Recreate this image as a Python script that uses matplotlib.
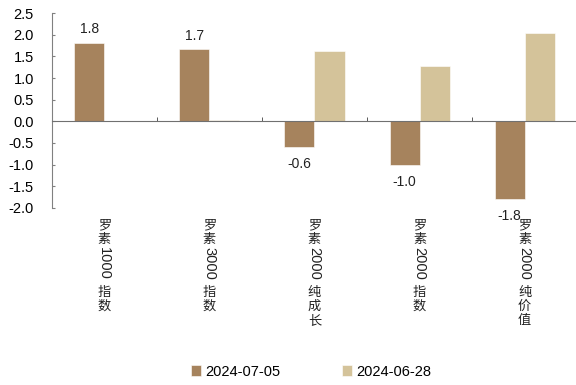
import matplotlib
matplotlib.use("Agg")
import matplotlib.pyplot as plt
import numpy as np

plt.rcParams['font.family'] = ['Liberation Sans', 'Noto Sans CJK SC', 'DejaVu Sans']

categories = ["罗素1000指数", "罗素3000指数", "罗素2000纯成长", "罗素2000指数", "罗素2000纯价值"]
series_names = ["2024-07-05", "2024-06-28"]
s_0705 = [1.8, 1.66, -0.6, -1.02, -1.8]
s_0628 = [0.0, 0.03, 1.62, 1.27, 2.03]
yticks = [2.5, 2.0, 1.5, 1.0, 0.5, 0.0, -0.5, -1.0, -1.5, -2.0]

c1 = "#A6835D"
c2 = "#D4C39A"

fig = plt.figure(figsize=(5.76, 3.85), dpi=100)
ax = fig.add_axes([0.090, 0.460, 0.912, 0.506])

x = np.arange(len(categories))
w = 0.286
b1 = ax.bar(x - w/2, s_0705, w, color=c1, edgecolor="white", linewidth=0.4, label=series_names[0])
b2 = ax.bar(x + w/2, s_0628, w, color=c2, edgecolor="white", linewidth=0.4, label=series_names[1])

for xi, v in zip(x - w/2, s_0705):
    off = 5 if v >= 0 else -7
    ax.annotate(f"{v:.1f}", xy=(xi, v), xytext=(0, off), textcoords="offset points",
                ha="center", va="bottom" if v >= 0 else "top", fontsize=10, color="#222222")

ax.set_xlim(-0.5, len(categories) - 0.5)
ax.set_ylim(-2.0, 2.5)
ax.set_yticks(yticks)
ax.set_yticklabels([f"{t:.1f}" for t in yticks], fontsize=10.5)
ax.tick_params(axis="y", direction="in", length=2, color="#808080", pad=13)

ax.set_xticks([])
ax.set_xticks(np.arange(0.5, len(categories) - 0.5), minor=True)
ax.tick_params(axis="x", which="minor", direction="in", length=3, color="#404040")

for s in ["top", "right"]:
    ax.spines[s].set_visible(False)
ax.spines["left"].set_color("#808080")
ax.spines["bottom"].set_position(("data", 0))
ax.spines["bottom"].set_color("#707070")

# vertical stacked category labels
px2pt = 72 / fig.dpi
trans = ax.get_xaxis_transform()
for i, lab in enumerate(categories):
    segs = []
    cur = ""
    for ch in lab:
        if ch.isdigit():
            cur += ch
        else:
            if cur:
                segs.append(cur)
                cur = ""
            segs.append(ch)
    if cur:
        segs.append(cur)
    ypix = 11
    for seg in segs:
        if seg.isdigit():
            ax.annotate(seg, xy=(i, 0), xycoords=trans, xytext=(0, -ypix * px2pt),
                        textcoords="offset points", ha="center", va="top", rotation=-90,
                        fontsize=10.5, color="#222222", annotation_clip=False)
            ypix += 9.3 * len(seg) + 2
        else:
            ax.annotate(seg, xy=(i, 0), xycoords=trans, xytext=(0, -ypix * px2pt),
                        textcoords="offset points", ha="center", va="top",
                        fontsize=9.5, color="#222222", family=['Noto Sans CJK SC', 'DejaVu Sans'],
                        annotation_clip=False)
            ypix += 14

fig.legend(handles=[b1, b2], labels=series_names, loc="center", bbox_to_anchor=(0.54, 0.035),
           ncol=2, frameon=False, fontsize=10.5, handlelength=0.7, handleheight=0.7,
           handletextpad=0.3, columnspacing=4.2)

fig.savefig("out.png", dpi=100)
